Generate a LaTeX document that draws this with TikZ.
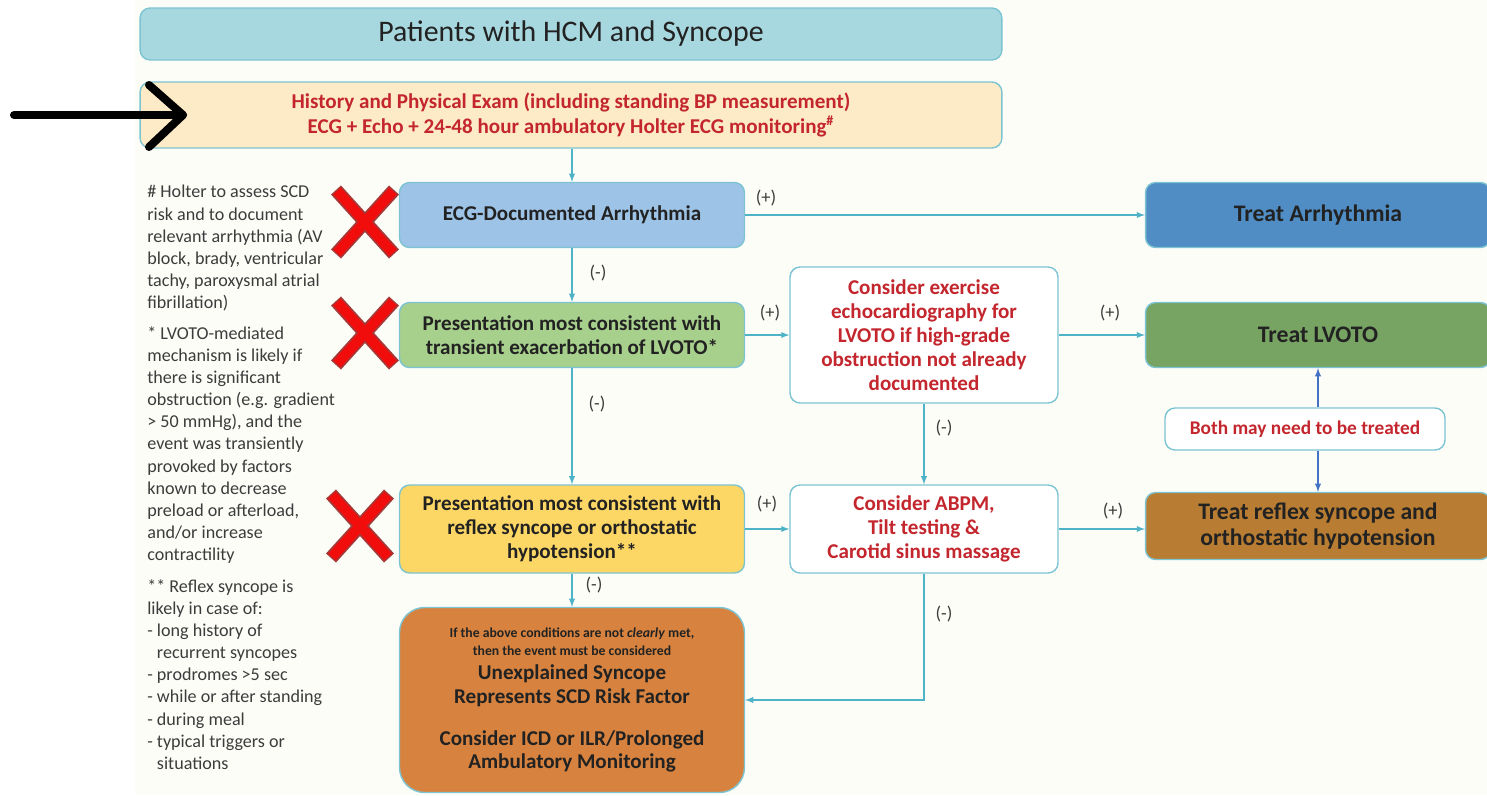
\documentclass[tikz,border=0pt]{standalone}
\usepackage{fontspec}
\setmainfont{Carlito}
\usetikzlibrary{positioning}
\usetikzlibrary{arrows,shapes}
\usetikzlibrary{calc}

\definecolor{bgcream}{HTML}{FDFDF8}
\definecolor{boxline}{HTML}{7CC4D2}
\definecolor{tealline}{HTML}{4FB3C8}
\definecolor{blueline}{HTML}{4472C4}
\definecolor{darktext}{HTML}{222222}
\definecolor{redtext}{HTML}{C4262E}
\definecolor{notetext}{HTML}{3C3C3C}
\definecolor{titlefill}{HTML}{A8D8DF}
\definecolor{histfill}{HTML}{FCEBC6}
\definecolor{ecgfill}{HTML}{9DC3E6}
\definecolor{treatAfill}{HTML}{4F8DC4}
\definecolor{lvotofill}{HTML}{A8D08D}
\definecolor{treatLfill}{HTML}{77A363}
\definecolor{reflfill}{HTML}{FDD765}
\definecolor{treatRfill}{HTML}{B87D32}
\definecolor{unexplfill}{HTML}{D7833F}
\definecolor{xred}{HTML}{F20D0D}
\definecolor{xdark}{HTML}{A33A3A}

\begin{document}
\begin{tikzpicture}
  [x=0.02cm,y=-0.02cm,
  box/.style={rectangle,rounded corners=0.2cm,draw=boxline,thick,align=center,inner sep=2pt,text=darktext,font=\bfseries\fontsize{12}{13.6}\selectfont},
  midbox/.style={box,minimum width=6.9cm,minimum height=1.3cm},
  redbox/.style={box,fill=white,text=redtext},
  treatbox/.style={box,minimum width=6.9cm,minimum height=1.3cm,font=\bfseries\fontsize{13.5}{15}\selectfont},
  sign/.style={text=notetext,font=\fontsize{10.5}{12}\selectfont},
  note/.style={anchor=north west,inner sep=0pt,align=left,text=notetext,font=\fontsize{10.3}{12.6}\selectfont},
  line/.style={-latex,tealline,semithick},
  bline/.style={-latex,blueline,semithick},
  bigarrow/.style={black,line width=0.16cm,line cap=round,line join=round}]
  \useasboundingbox (0,0) rectangle (1487,795);
  \clip (0,0) rectangle (1487,795);
  \fill[bgcream] (135,0) rectangle (1487,795);

  \node[box,fill=titlefill,minimum width=17.24cm,minimum height=1.04cm,font=\fontsize{17}{20}\selectfont] (top) at (571,34) {Patients with HCM and Syncope};
  \node[box,fill=histfill,text=redtext,minimum width=17.24cm,minimum height=1.32cm,font=\bfseries\fontsize{12}{14}\selectfont] (hist) at (571,115) {History and Physical Exam (including standing BP measurement)\\ECG + Echo + 24-48 hour ambulatory Holter ECG monitoring\textsuperscript{\#}};

  \node[midbox,fill=ecgfill] (ecg) at (572,215) {ECG-Documented Arrhythmia};
  \node[midbox,fill=lvotofill] (lvoto) at (572,335) {Presentation most consistent with\\transient exacerbation of LVOTO*};
  \node[midbox,fill=reflfill,minimum height=1.76cm] (refl) at (572,529) {Presentation most consistent with\\reflex syncope or orthostatic\\hypotension**};
  \node[box,fill=unexplfill,rounded corners=0.5cm,minimum width=6.9cm,minimum height=3.7cm] (unexpl) at (572,700) {{\fontsize{7.8}{9}\selectfont If the above conditions are not \textit{clearly} met,}\\[-3pt]{\fontsize{7.8}{9}\selectfont then the event must be considered}\\Unexplained Syncope\\Represents SCD Risk Factor\\[10pt]Consider ICD or ILR/Prolonged\\Ambulatory Monitoring};

  \node[redbox,minimum width=5.36cm,minimum height=2.72cm] (exer) at (924,335) {Consider exercise\\echocardiography for\\LVOTO if high-grade\\obstruction not already\\documented};
  \node[redbox,minimum width=5.36cm,minimum height=1.76cm] (abpm) at (924,529) {Consider ABPM,\\Tilt testing \&\\Carotid sinus massage};

  \node[treatbox,fill=treatAfill] (treatA) at (1318,215) {Treat Arrhythmia};
  \node[treatbox,fill=treatLfill] (treatL) at (1318,335) {Treat LVOTO};
  \node[treatbox,fill=treatRfill,minimum height=1.34cm] (treatR) at (1318,526) {Treat reflex syncope and\\orthostatic hypotension};
  \node[redbox,minimum width=5.6cm,minimum height=0.84cm,font=\bfseries\fontsize{11}{13}\selectfont] (both) at (1305,429) {Both may need to be treated};

  \draw[line] (hist.south -| ecg.north) -- (ecg.north);
  \draw[line] (ecg) -- (treatA);
  \draw[line] (ecg) -- (lvoto);
  \draw[line] (lvoto) -- (exer);
  \draw[line] (exer) -- (treatL);
  \draw[line] (lvoto) -- (refl);
  \draw[line] (exer) -- (abpm);
  \draw[line] (refl) -- (abpm);
  \draw[line] (abpm.east) -- (abpm.east -| treatR.west);
  \draw[line] (refl) -- (unexpl);
  \draw[line] (abpm.south) |- (unexpl.east);
  \draw[bline] (both.north -| treatL.south) -- (treatL.south);
  \draw[bline] (both.south -| treatR.north) -- (treatR.north);

  \node[sign] (s1) at (766,198) {(+)};
  \node[sign] (s2) at (598,273) {(-)};
  \node[sign] (s3) at (770,313) {(+)};
  \node[sign] (s4) at (1110,313) {(+)};
  \node[sign] (s5) at (597,404) {(-)};
  \node[sign] (s6) at (944,428) {(-)};
  \node[sign] (s7) at (767,504) {(+)};
  \node[sign] (s8) at (1113,511) {(+)};
  \node[sign] (s9) at (594,585) {(-)};
  \node[sign] (s10) at (944,614) {(-)};

  \node[note] (n1) at (147,185) {\# Holter to assess SCD\\risk and to document\\relevant arrhythmia (AV\\block, brady, ventricular\\tachy, paroxysmal atrial\\fibrillation)};
  \node[note] (n2) at (147,326) {* LVOTO-mediated\\mechanism is likely if\\there is significant\\obstruction (e.g. gradient\\> 50 mmHg), and the\\event was transiently\\provoked by factors\\known to decrease\\preload or afterload,\\and/or increase\\contractility};
  \node[note] (n3) at (147,579) {** Reflex syncope is\\likely in case of:\\- long history of\\\phantom{- }recurrent syncopes\\- prodromes >5 sec\\- while or after standing\\- during meal\\- typical triggers or\\\phantom{- }situations};

  \foreach \cx/\cy in {365/222,365/333,360/526} {
    \draw[xdark,line width=0.27cm] (\cx-29,\cy-32) -- (\cx+29,\cy+32) (\cx-29,\cy+32) -- (\cx+29,\cy-32);
    \draw[xred,line width=0.2cm] (\cx-28,\cy-31) -- (\cx+28,\cy+31) (\cx-28,\cy+31) -- (\cx+28,\cy-31);
  }

  \coordinate (pin) at (14,115);
  \coordinate (tip) at (183,115);
  \draw[bigarrow] (pin) -- (tip);
  \draw[bigarrow] ($(tip)+(-34,-30)$) -- (tip) -- ($(tip)+(-34,32)$);
\end{tikzpicture}
\end{document}
